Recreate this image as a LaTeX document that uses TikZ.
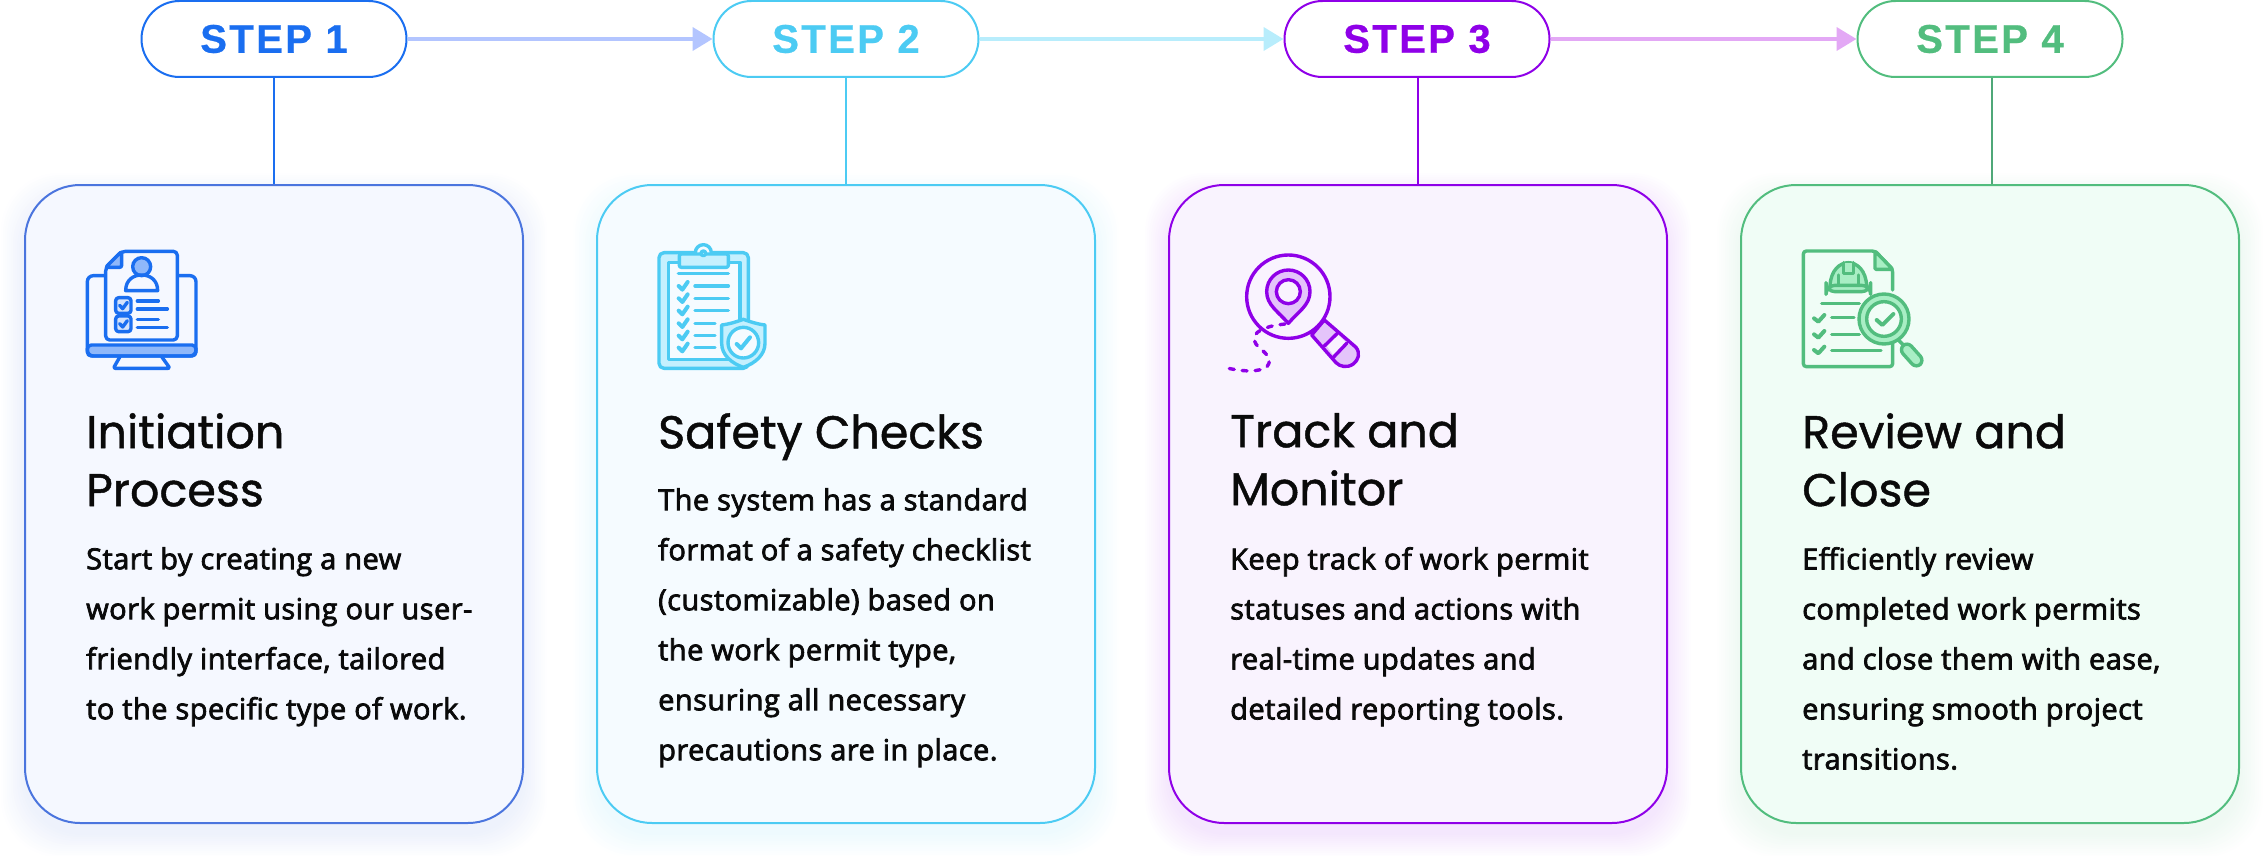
\documentclass[tikz,border=0pt]{standalone}
\usepackage{fontspec}
\usetikzlibrary{arrows.meta}
\newfontfamily\bodyf[FakeBold=2.6,LetterSpace=1.5]{Open Sans}
\newfontfamily\titlef[FakeBold=1.0]{Poppins}
\newfontfamily\stepf[LetterSpace=6,FakeBold=0.6]{Liberation Sans Bold}
\definecolor{cA}{HTML}{1A6EF0}\definecolor{cB}{HTML}{4CCBF3}\definecolor{cC}{HTML}{8F00E8}\definecolor{cD}{HTML}{52BD7E}
\definecolor{edgeA}{HTML}{4B75DE}\definecolor{stemD}{HTML}{4FA878}
\definecolor{fillA}{HTML}{F5F8FF}\definecolor{fillB}{HTML}{F5FBFF}\definecolor{fillC}{HTML}{F9F3FE}\definecolor{fillD}{HTML}{F0FDF6}
\definecolor{lightA}{HTML}{8FB8FA}\definecolor{lightB}{HTML}{C5F0FE}\definecolor{lightC}{HTML}{E4C4FA}\definecolor{lightD}{HTML}{A8EEC4}
\definecolor{arrA}{HTML}{B3C5FF}\definecolor{arrB}{HTML}{B8EDFC}\definecolor{arrC}{HTML}{E3A8F5}
\definecolor{ink}{HTML}{0A0A0A}
\tikzset{
 pill/.style={draw=#1,fill=white,line width=2pt,rounded corners=38pt,minimum width=265pt,minimum height=76pt,inner sep=0pt,text=#1,font=\stepf\fontsize{40}{42}\selectfont},
 card/.style={line width=2pt,rounded corners=55pt,minimum width=498pt,minimum height=638pt,inner sep=0pt},
 stemline/.style={draw=#1,line width=2pt},
 flow/.style={draw=#1,line width=4pt,-{Triangle[length=20pt,width=23pt,fill=#1]},shorten >=0pt},
 ttl/.style={anchor=north west,inner sep=0pt,align=left,text=ink,font=\titlef\fontsize{46}{58}\selectfont},
 txt/.style={anchor=north west,inner sep=0pt,align=left,text=ink,font=\bodyf\fontsize{29}{50}\selectfont},
 ic/.style={line width=3.4pt,line cap=round,line join=round}
}
\newcommand{\cardglow}[2]{\foreach \s in {2,4,...,24}{\path[fill=#2,opacity=0.007,rounded corners=58pt] (#1-\s,197-\s) rectangle (#1+498+\s,833+\s);}}
\begin{document}
\begin{tikzpicture}[x=1pt,y=-1pt]
\useasboundingbox (0,0) rectangle (2264,856);
\cardglow{25}{edgeA}\cardglow{597}{cB}\cardglow{1169}{cC}\cardglow{1741}{cD}
\node[card,draw=edgeA,fill=fillA] (card1) at (274,504) {};
\node[card,draw=cB,fill=fillB] (card2) at (846,504) {};
\node[card,draw=cC,fill=fillC] (card3) at (1418,504) {};
\node[card,draw=cD,fill=fillD] (card4) at (1990,504) {};
\node[pill=cA] (step1) at (274,39) {STEP 1};
\node[pill=cB] (step2) at (846,39) {STEP 2};
\node[pill=cC] (step3) at (1417,39) {STEP 3};
\node[pill=cD] (step4) at (1990,39) {STEP 4};
\draw[stemline=cA] (step1.south) -- (step1.south |- card1.north);
\draw[stemline=cB] (step2.south) -- (step2.south |- card2.north);
\draw[stemline=cC] ([xshift=1pt]step3.south) -- (card3.north);
\draw[stemline=stemD] ([xshift=2pt]step4.south) -- ([xshift=2pt]card4.north);
\draw[flow=arrA] (step1) -- (step2);
\draw[flow=arrB] (step2) -- (step3);
\draw[flow=arrC] (step3) -- (step4);
\node[ttl] (title1) at (86,413) {Initiation\\Process};
\node[ttl] (title2) at (658,413) {Safety Checks};
\node[ttl] (title3) at (1230,413) {Track and\\Monitor};
\node[ttl] (title4) at (1802,413) {Review and\\Close};
\node[txt] (body1) at (86,547) {Start by creating a new\\work permit using our user-\\friendly interface, tailored\\to the specific type of work.};
\node[txt] (body2) at (658,488) {The system has a standard\\format of a safety checklist\\(customizable) based on\\the work permit type,\\ensuring all necessary\\precautions are in place.};
\node[txt] (body3) at (1230,547) {Keep track of work permit\\statuses and actions with\\real-time updates and\\detailed reporting tools.};
\node[txt] (body4) at (1802,547) {Efficiently review\\completed work permits\\and close them with ease,\\ensuring smooth project\\transitions.};
% icon 1
\begin{scope}[shift={(60,230)},scale=1/3,ic,draw=cA]
\draw[rounded corners=4pt,fill=lightA] (82,345) rectangle (408,378);
\draw[rounded corners=6pt] (135,137) -- (82,137) -- (82,378) -- (408,378) -- (408,137) -- (355,137);
\draw[rounded corners=2pt] (180,380) -- (160,415) -- (330,415) -- (305,380);
\draw[rounded corners=4pt,fill=fillA] (185,64) -- (352,64) -- (352,330) -- (137,330) -- (137,112) -- cycle;
\draw[fill=lightA,rounded corners=2pt] (185,64) -- (185,112) -- (137,112) -- cycle;
\draw[fill=lightA] (245,110) circle (27);
\draw (197,182) .. controls (197,150) and (220,135) .. (245,135) .. controls (270,135) and (293,150) .. (293,182) -- cycle;
\draw[rounded corners=3pt,fill=cA,fill opacity=.15] (167,203) rectangle (213,250);
\draw[rounded corners=3pt,fill=cA,fill opacity=.15] (167,258) rectangle (213,305);
\draw (179,226) -- (188,236) -- (202,217);
\draw (179,281) -- (188,291) -- (202,272);
\draw (232,213) -- (295,213) (232,237) -- (322,237) (232,268) -- (295,268) (232,293) -- (322,293);
\end{scope}
% icon 2
\begin{scope}[shift={(640,230)},scale=1/3,ic,draw=cB]
\draw[rounded corners=5pt,fill=lightB] (57,68) rectangle (325,415);
\draw[fill=fillB] (85,97) rectangle (300,388);
\draw[fill=fillB] (190,68) circle (24);
\draw[rounded corners=2pt,fill=lightB] (118,72) rectangle (265,112);
\draw[fill=fillB] (190,70) circle (7);
\draw (115,130) -- (265,130);
\foreach \y in {168,205,242,280,317,353}{\draw[line width=4pt] (116,\y) -- (127,\y+11) -- (143,\y-12);}
\foreach \y in {168,205,242}{\draw (165,\y) -- (265,\y);}
\foreach \y in {280,317,353}{\draw (165,\y) -- (225,\y);}
\draw[fill=lightB] (245,285) .. controls (270,282) and (290,275) .. (310,268) .. controls (330,275) and (350,282) .. (375,285) -- (375,340) .. controls (375,375) and (345,400) .. (310,412) .. controls (275,400) and (245,375) .. (245,340) -- cycle;
\draw[fill=fillB] (310,338) circle (46);
\draw[line width=4pt] (290,342) -- (303,355) -- (330,322);
\end{scope}
% icon 3
\begin{scope}[shift={(1210,240)},scale=1/3,ic,draw=cC]
\draw (235,170) circle (125);
\draw[fill=lightC] (235,250) .. controls (205,215) and (170,195) .. (170,155) .. controls (170,118) and (200,90) .. (235,90) .. controls (270,90) and (300,118) .. (300,155) .. controls (300,195) and (265,215) .. (235,250) -- cycle;
\draw[fill=fillC] (235,155) circle (36);
\draw[fill=lightC] (343,240) -- (438,322) .. controls (452,340) and (445,360) .. (430,372) .. controls (410,385) and (390,380) .. (378,368) -- (305,285) -- cycle;
\fill[fillC] (348,315) -- (382,282) -- (408,308) -- (372,348) -- cycle;
\draw (343,318) -- (382,280) (370,352) -- (410,310);
\draw[dash pattern=on 5pt off 8pt,line cap=round] (225,252) .. controls (200,255) and (175,258) .. (150,272) .. controls (125,285) and (130,310) .. (150,325) .. controls (175,345) and (190,365) .. (165,385) .. controls (130,398) and (90,392) .. (55,385);
\end{scope}
% icon 4
\begin{scope}[shift={(1790,240)},scale=1/3,ic,draw=cD]
\draw[rounded corners=3pt] (308,150) -- (308,88) -- (255,33) -- (40,33) -- (40,380) -- (308,380) -- (308,305);
\draw[fill=lightD,rounded corners=1pt] (255,33) -- (255,88) -- (308,88) -- cycle;
\draw[fill=lightD] (120,138) .. controls (122,90) and (150,68) .. (175,68) .. controls (200,68) and (228,90) .. (230,138) -- cycle;
\draw[fill=lightD] (160,68) -- (160,100) -- (190,100) -- (190,68);
\draw (145,105) -- (145,135) (205,105) -- (205,135);
\draw[fill=lightD,rounded corners=9pt] (108,136) rectangle (242,155);
\draw (95,191) -- (208,191);
\foreach \y in {235,283,330}{\draw[line width=4pt] (72,\y) -- (85,\y+10) -- (103,\y-10);}
\draw (125,233) -- (192,233) (125,283) -- (208,283) (125,332) -- (273,332);
\draw (325,300) -- (345,320);
\draw[fill=lightD] (282,237) circle (75);
\draw[fill=fillD] (282,237) circle (52);
\draw[line width=4pt] (260,240) -- (277,255) -- (310,222);
\draw[fill=lightD,rounded corners=6pt] (352,305) -- (403,362) -- (378,385) -- (327,328) -- cycle;
\end{scope}
\end{tikzpicture}
\end{document}
